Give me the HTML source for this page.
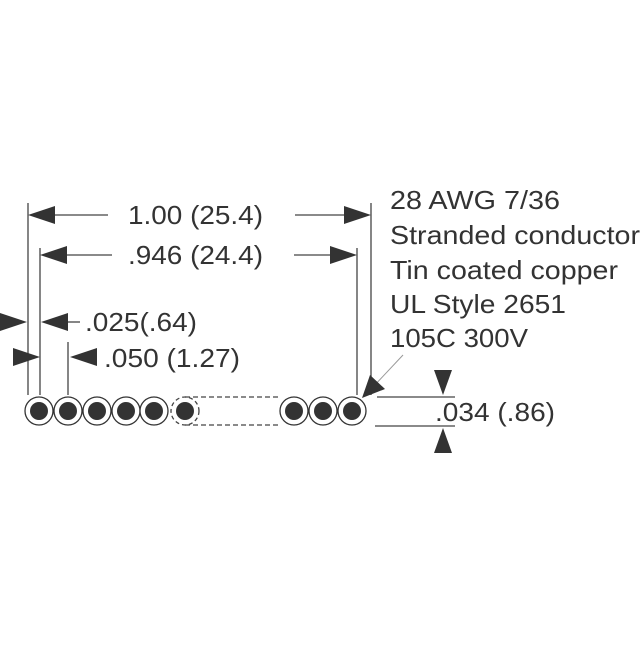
<!DOCTYPE html>
<html><head><meta charset="utf-8"><style>html,body{margin:0;padding:0;background:#fff}</style></head>
<body>
<svg width="640" height="640" viewBox="0 0 640 640" xmlns="http://www.w3.org/2000/svg" font-family="Liberation Sans, sans-serif" fill="#333">
<g stroke="#444" stroke-width="1.3" fill="none">
<line x1="28" y1="203" x2="28" y2="395"/>
<line x1="40" y1="248" x2="40" y2="395"/>
<line x1="68" y1="342" x2="68" y2="395"/>
<line x1="371" y1="203" x2="371" y2="395"/>
<line x1="357" y1="248" x2="357" y2="395"/>
<line x1="55" y1="215" x2="108" y2="215"/>
<line x1="295" y1="215" x2="345" y2="215"/>
<line x1="67" y1="255" x2="112" y2="255"/>
<line x1="294" y1="255" x2="330" y2="255"/>
<line x1="68" y1="322" x2="80" y2="322"/>
<line x1="377" y1="397" x2="455" y2="397"/>
<line x1="375" y1="426" x2="455" y2="426"/>
<path d="M185 397 H280 M185 425 H280" stroke-dasharray="5,3"/>
<circle cx="185" cy="411" r="14" stroke-dasharray="4,3"/>
</g>
<line x1="403" y1="355" x2="372" y2="388" stroke="#999" stroke-width="1"/>
<g fill="#333">
<polygon points="28,215 55,206 55,224"/>
<polygon points="371,215 344,206 344,224"/>
<polygon points="40,255 67,246 67,264"/>
<polygon points="357,255 330,246 330,264"/>
<polygon points="27,322 0,313 0,331"/>
<polygon points="41,322 68,313 68,331"/>
<polygon points="40,357 13,348 13,366"/>
<polygon points="70,357 97,348 97,366"/>
<polygon points="443,395 434,370 452,370"/>
<polygon points="443,428 434,453 452,453"/>
<polygon points="362,398 370,375 385,389"/>
</g>
<g stroke="#333" stroke-width="1.3" fill="#fff">
<circle cx="39" cy="411" r="14"/><circle cx="68" cy="411" r="14"/><circle cx="97" cy="411" r="14"/>
<circle cx="126" cy="411" r="14"/><circle cx="154" cy="411" r="14"/>
<circle cx="294" cy="411" r="14"/><circle cx="323" cy="411" r="14"/><circle cx="352" cy="411" r="14"/>
</g>
<g fill="#333">
<circle cx="39" cy="411" r="9"/><circle cx="68" cy="411" r="9"/><circle cx="97" cy="411" r="9"/>
<circle cx="126" cy="411" r="9"/><circle cx="154" cy="411" r="9"/><circle cx="185" cy="411" r="9"/>
<circle cx="294" cy="411" r="9"/><circle cx="323" cy="411" r="9"/><circle cx="352" cy="411" r="9"/>
</g>
<g font-size="26" lengthAdjust="spacingAndGlyphs">
<text x="128" y="224" textLength="135" lengthAdjust="spacingAndGlyphs">1.00 (25.4)</text>
<text x="128" y="264" textLength="135" lengthAdjust="spacingAndGlyphs">.946 (24.4)</text>
<text x="85" y="331" textLength="112" lengthAdjust="spacingAndGlyphs">.025(.64)</text>
<text x="104" y="367" textLength="136" lengthAdjust="spacingAndGlyphs">.050 (1.27)</text>
<text x="435" y="421" textLength="120" lengthAdjust="spacingAndGlyphs">.034 (.86)</text>
<text x="390" y="209" textLength="170" lengthAdjust="spacingAndGlyphs">28 AWG 7/36</text>
<text x="390" y="244" textLength="250" lengthAdjust="spacingAndGlyphs">Stranded conductor</text>
<text x="390" y="279" textLength="228" lengthAdjust="spacingAndGlyphs">Tin coated copper</text>
<text x="390" y="313" textLength="176" lengthAdjust="spacingAndGlyphs">UL Style 2651</text>
<text x="390" y="347" textLength="138" lengthAdjust="spacingAndGlyphs">105C 300V</text>
</g>
</svg>
</body></html>
